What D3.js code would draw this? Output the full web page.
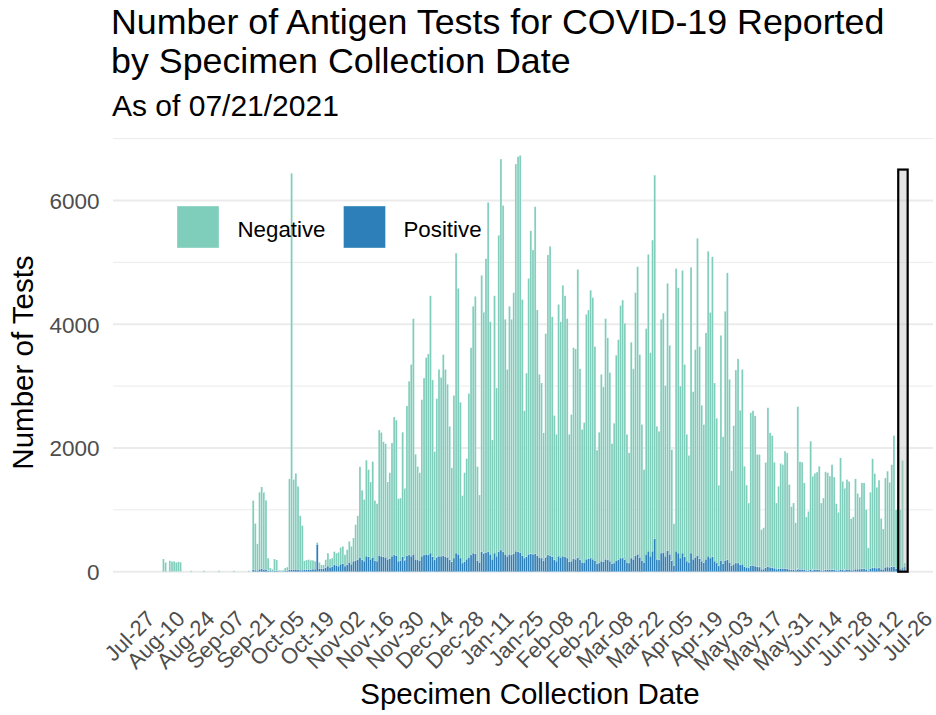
<!DOCTYPE html>
<html><head><meta charset="utf-8">
<script src="https://cdn.jsdelivr.net/npm/d3@7"></script>
<style>body{margin:0;background:#fff} svg{font-family:"Liberation Sans",Arial,sans-serif}</style>
</head><body><svg id="c" width="936" height="715"></svg>
<script>
// first bar date; one value per day from here on
const startDate = "2020-08-03";
const negative = [
202,148,0,178,163,168,148,158,153,0,
0,0,0,15,0,0,0,0,0,15,
0,0,0,0,0,0,15,0,0,0,
0,0,0,15,0,0,0,0,0,0,
15,0,1120,755,430,1245,1325,1245,1120,205,
50,32,190,175,25,15,20,50,63,1470,
6405,1460,1555,1350,880,720,145,160,160,155,
145,130,30,100,65,60,125,210,135,140,
215,200,223,270,280,185,245,340,290,375,
580,705,1465,1127,996,1553,1410,1250,1550,970,
930,2030,2000,1860,1840,1250,1390,1830,2230,2190,
1010,1010,2015,1160,2420,2810,3100,3810,1700,1510,
1420,2530,2860,3180,3250,4160,2860,1750,2560,3020,
2890,3250,3030,2800,2160,1520,2630,4850,4300,2520,
1090,1440,1630,2650,3350,3990,4160,1520,1090,4470,
3900,4750,5650,3760,1930,4160,2720,5110,6320,5600,
3800,3020,4010,3810,4220,6260,6390,6420,4140,2380,
2970,4460,5220,4920,5610,3970,2960,2830,2065,3610,
4850,5000,3880,2335,2050,4070,3810,4380,4220,3870,
2060,2370,3410,3400,4660,3090,2150,2260,3960,4020,
4330,4230,3460,1835,2115,3020,2825,3890,3590,3050,
1940,2260,3320,3560,4080,4170,3820,2070,1780,3490,
3080,4250,4650,3280,2200,1500,3650,4800,3290,5030,
5880,2150,2080,3780,3870,2760,4320,3380,1795,675,
4570,4290,2780,4570,3110,2050,1730,4620,2710,3360,
5130,3430,2520,2230,3660,4930,3970,4850,2880,2340,
1300,3640,2050,4030,4640,2960,1530,2240,3120,3300,
2500,3150,1625,1330,1050,2470,2500,2430,1815,1820,
640,670,1700,2570,2175,2135,1715,1070,1335,1700,
1680,1900,1875,1375,1020,1080,765,2625,1745,1735,
1405,865,955,2075,1515,1560,1580,1675,1090,1170,
1585,1570,1515,1700,1500,1080,940,1805,1430,1325,
1455,1425,830,860,1460,1225,1165,1390,1390,970,
365,1235,1765,1525,1310,1420,820,655,1445,1550,
1375,1650,2120,950,1990,950,1730,60
];
const positive = [
3,2,0,2,2,2,2,2,2,0,
0,0,0,0,0,0,0,0,0,0,
0,0,0,0,0,0,0,0,0,0,
0,0,0,0,0,0,0,0,0,0,
0,0,30,25,20,40,45,40,35,15,
10,8,15,15,5,5,5,10,12,30,
35,30,35,30,25,25,30,30,35,35,
40,40,440,50,45,50,70,90,70,80,
110,100,90,120,130,90,110,150,120,170,
180,200,230,190,170,250,240,200,230,180,
170,260,250,240,230,200,210,250,270,260,
170,180,240,190,260,270,250,280,200,190,
180,250,270,280,270,300,240,190,240,250,
250,260,240,230,190,160,220,300,280,220,
140,160,200,230,270,300,290,180,150,320,
300,310,320,280,200,300,250,330,350,320,
280,250,280,270,290,330,320,310,260,220,
240,280,290,280,290,260,230,220,180,240,
270,260,240,190,170,250,230,250,240,220,
160,170,210,200,230,190,150,150,200,210,
220,200,180,130,140,170,160,200,190,170,
130,140,180,190,220,220,200,150,140,220,
200,260,280,230,180,150,280,330,250,330,
530,200,190,300,310,250,340,280,180,100,
330,300,220,300,240,170,150,300,200,230,
260,210,170,150,200,250,220,240,170,140,
100,180,130,180,190,150,100,120,140,140,
110,120,80,70,60,100,100,90,80,75,
40,40,70,80,70,65,55,40,45,50,
50,50,45,35,30,30,25,45,35,35,
30,20,20,35,30,30,30,30,20,20,
30,30,30,30,30,20,20,35,30,30,
35,35,25,25,40,40,40,45,45,35,
20,50,60,60,55,60,40,35,70,75,
70,80,80,50,80,50,70,80
];
const tickDates = ["2020-07-27","2020-08-10","2020-08-24","2020-09-07","2020-09-21","2020-10-05","2020-10-19","2020-11-02","2020-11-16","2020-11-30","2020-12-14","2020-12-28","2021-01-11","2021-01-25","2021-02-08","2021-02-22","2021-03-08","2021-03-22","2021-04-05","2021-04-19","2021-05-03","2021-05-17","2021-05-31","2021-06-14","2021-06-28","2021-07-12","2021-07-26"];
const tickLabels = ["Jul-27","Aug-10","Aug-24","Sep-07","Sep-21","Oct-05","Oct-19","Nov-02","Nov-16","Nov-30","Dec-14","Dec-28","Jan-11","Jan-25","Feb-08","Feb-22","Mar-08","Mar-22","Apr-05","Apr-19","May-03","May-17","May-31","Jun-14","Jun-28","Jul-12","Jul-26"];
const yTicks = [0,2000,4000,6000];
const yMinor = [1000,3000,5000,7000];
const seriesNames = ["Negative","Positive"];
const seriesColors = ["#7fcdbb","#2c7fb8"];
const highlight = {start:"2021-07-13T00:00", end:"2021-07-17T10:00", top:6500};

const parse = d3.utcParse("%Y-%m-%d");
const parseT = d3.utcParse("%Y-%m-%dT%H:%M");
const svg = d3.select("#c");
const x = d3.scaleUtc().domain([parse(tickDates[0]), parse(tickDates[tickDates.length-1])]).range([148.5, 926]);
const y = d3.scaleLinear().domain([0,6000]).range([571.7, 200.5]);
const panelL = 113, panelR = 933;

// grid
svg.append("g").selectAll("line").data(yMinor).join("line")
  .attr("x1",panelL).attr("x2",panelR).attr("y1",d=>y(d)).attr("y2",d=>y(d))
  .attr("stroke","#ebebeb").attr("stroke-width",1);
svg.append("g").selectAll("line").data(yTicks).join("line")
  .attr("x1",panelL).attr("x2",panelR).attr("y1",d=>y(d)).attr("y2",d=>y(d))
  .attr("stroke","#ebebeb").attr("stroke-width",2);

// data
const start = parse(startDate);
const data = negative.map((n,i)=>({date:d3.utcDay.offset(start,i), neg:n, pos:positive[i]}));
const bw = (x(d3.utcDay.offset(start,1)) - x(start))*0.9;
const gb = svg.append("g");
gb.selectAll("rect.neg").data(data.filter(d=>d.neg>0)).join("rect").attr("class","neg")
  .attr("x",d=>x(d.date)-bw/2).attr("width",bw)
  .attr("y",d=>y(d.pos+d.neg)).attr("height",d=>y(d.pos)-y(d.pos+d.neg))
  .attr("fill",seriesColors[0]).attr("stroke","#fff").attr("stroke-width",0.35).attr("stroke-opacity",0.6);
gb.selectAll("rect.pos").data(data.filter(d=>d.pos>0)).join("rect").attr("class","pos")
  .attr("x",d=>x(d.date)-bw/2).attr("width",bw)
  .attr("y",d=>y(d.pos)).attr("height",d=>y(0)-y(d.pos))
  .attr("fill",seriesColors[1]).attr("stroke","#fff").attr("stroke-width",0.35).attr("stroke-opacity",0.6);

// highlight rect
const hx0 = x(parseT(highlight.start)), hx1 = x(parseT(highlight.end));
svg.append("rect").attr("x",hx0).attr("width",hx1-hx0)
  .attr("y",y(highlight.top)).attr("height",y(0)-y(highlight.top))
  .attr("fill","#bfbfbf").attr("fill-opacity",0.4).attr("stroke","#000").attr("stroke-width",2.2);

// axes
const xa = svg.append("g").attr("transform","translate(-4,609)")
  .call(d3.axisBottom(x).tickValues(tickDates.map(parse)).tickFormat((d,i)=>tickLabels[i]).tickSize(0).tickPadding(0));
xa.select(".domain").remove();
xa.selectAll("text").attr("y",0).attr("x",0).attr("dy","0.72em").attr("text-anchor","end")
  .attr("transform","rotate(-45)").attr("font-size","22px").attr("fill","#4d4d4d").attr("font-family","Liberation Sans, Arial, sans-serif");

const ya = svg.append("g").attr("transform","translate(99.5,0)")
  .call(d3.axisLeft(y).tickValues(yTicks).tickFormat(d3.format("d")).tickSize(0).tickPadding(0));
ya.select(".domain").remove();
ya.selectAll("text").attr("font-size","22.5px").attr("fill","#4d4d4d").attr("dy","0.35em").attr("font-family","Liberation Sans, Arial, sans-serif");

// titles
svg.append("text").attr("x",111).attr("y",34).attr("font-size","35.8px").attr("fill","#000").text("Number of Antigen Tests for COVID-19 Reported");
svg.append("text").attr("x",111).attr("y",73).attr("font-size","35.8px").attr("fill","#000").text("by Specimen Collection Date");
svg.append("text").attr("x",112).attr("y",116).attr("font-size","30px").attr("fill","#000").text("As of 07/21/2021");
svg.append("text").attr("transform","translate(33,362.5) rotate(-90)").attr("text-anchor","middle")
  .attr("font-size","29.5px").attr("fill","#000").text("Number of Tests");
svg.append("text").attr("x",530).attr("y",704).attr("text-anchor","middle")
  .attr("font-size","29.5px").attr("fill","#000").text("Specimen Collection Date");

// legend
const lg = svg.append("g");
const lgX = [177, 343.5], lgT = [237.5, 403.5];
seriesNames.forEach((s,i)=>{
  lg.append("rect").attr("x",lgX[i]).attr("y",206).attr("width",42).attr("height",42)
    .attr("fill",seriesColors[i]).attr("stroke","#fff").attr("stroke-width",0.6).attr("stroke-opacity",0.6);
  lg.append("text").attr("x",lgT[i]).attr("y",236.5).attr("font-size","22.3px").attr("fill","#000").text(s);
});
</script></body></html>
